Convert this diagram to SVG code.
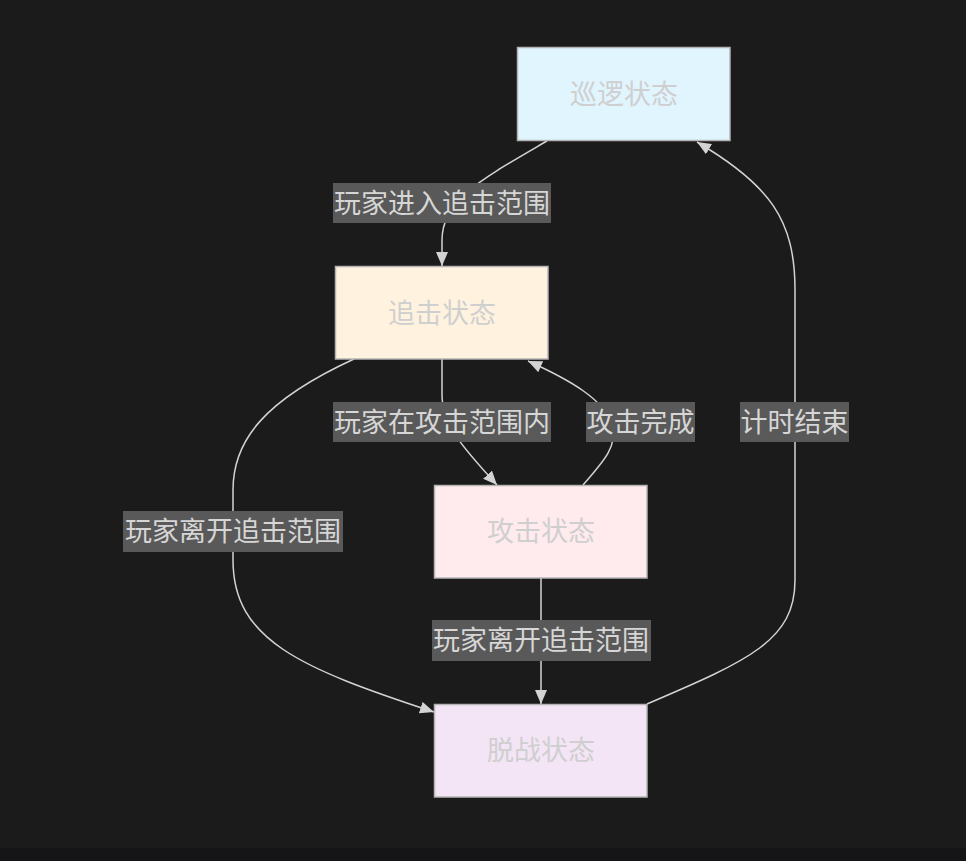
<svg xmlns="http://www.w3.org/2000/svg" width="966" height="861" viewBox="0 0 966 861">
<style>
.node rect{stroke:#b4b4b4;stroke-width:1.5}
.node text{fill:#cfcfcf;font-family:"Noto Sans CJK SC","Noto Sans",sans-serif;font-size:27px;text-anchor:middle;dominant-baseline:central}
.edge{fill:none;stroke:#d3d3d3;stroke-width:1.5}
.lbl rect{fill:#595959}
.lbl text{fill:#d6d6d6;font-family:"Noto Sans CJK SC","Noto Sans",sans-serif;font-size:27px;text-anchor:middle;dominant-baseline:central}
</style>
<defs>
<marker id="arr" viewBox="0 0 14 12" refX="14" refY="6" markerWidth="14" markerHeight="12" markerUnits="userSpaceOnUse" orient="auto">
<path d="M0,0 L14,6 L0,12 z" fill="#d3d3d3"/>
</marker>
</defs>
<rect x="0" y="0" width="966" height="861" fill="#1b1b1b"/>
<rect x="0" y="848" width="966" height="13" fill="#151517"/>
<g id="connectors">
<path class="edge" d="M547,141 C480,180 442,200 442,240 L442,266" marker-end="url(#arr)"/>
<path class="edge" d="M442,359 L442,395 C442,425 465,450 497,485" marker-end="url(#arr)"/>
<path class="edge" d="M583,485 C605,460 618,445 612,425 C605,400 570,380 528,361" marker-end="url(#arr)"/>
<path class="edge" d="M354,359 C265,400 233,440 233,490 L233,560 C233,640 300,668 434,712" marker-end="url(#arr)"/>
<path class="edge" d="M541,578 L541,704" marker-end="url(#arr)"/>
<path class="edge" d="M647,704 C750,660 795,640 795,580 L795,290 C795,220 770,185 697,142" marker-end="url(#arr)"/>
</g>
<g id="node-patrol" class="node"><rect x="517.5" y="47.5" width="212.5" height="93" fill="#e1f5fe"/><text x="624" y="92">巡逻状态</text></g>
<g id="node-chase" class="node"><rect x="335.5" y="266.5" width="212.5" height="92.5" fill="#fff3e0"/><text x="442" y="311">追击状态</text></g>
<g id="node-attack" class="node"><rect x="434.5" y="485.5" width="212.5" height="92.5" fill="#ffebee"/><text x="541" y="529">攻击状态</text></g>
<g id="node-disengage" class="node"><rect x="434.5" y="704.5" width="212.5" height="92.5" fill="#f3e5f5"/><text x="541" y="748">脱战状态</text></g>
<g id="labels">
<g class="lbl"><rect x="333" y="183" width="218" height="40"/><text x="442" y="201">玩家进入追击范围</text></g>
<g class="lbl"><rect x="333" y="402" width="218" height="40"/><text x="442" y="420">玩家在攻击范围内</text></g>
<g class="lbl"><rect x="586" y="402" width="109" height="40"/><text x="640.5" y="420">攻击完成</text></g>
<g class="lbl"><rect x="740" y="402" width="109" height="40"/><text x="794.5" y="420">计时结束</text></g>
<g class="lbl"><rect x="123" y="511" width="220" height="41"/><text x="233" y="529">玩家离开追击范围</text></g>
<g class="lbl"><rect x="432" y="620" width="219" height="41"/><text x="541" y="638">玩家离开追击范围</text></g>
</g>
</svg>
